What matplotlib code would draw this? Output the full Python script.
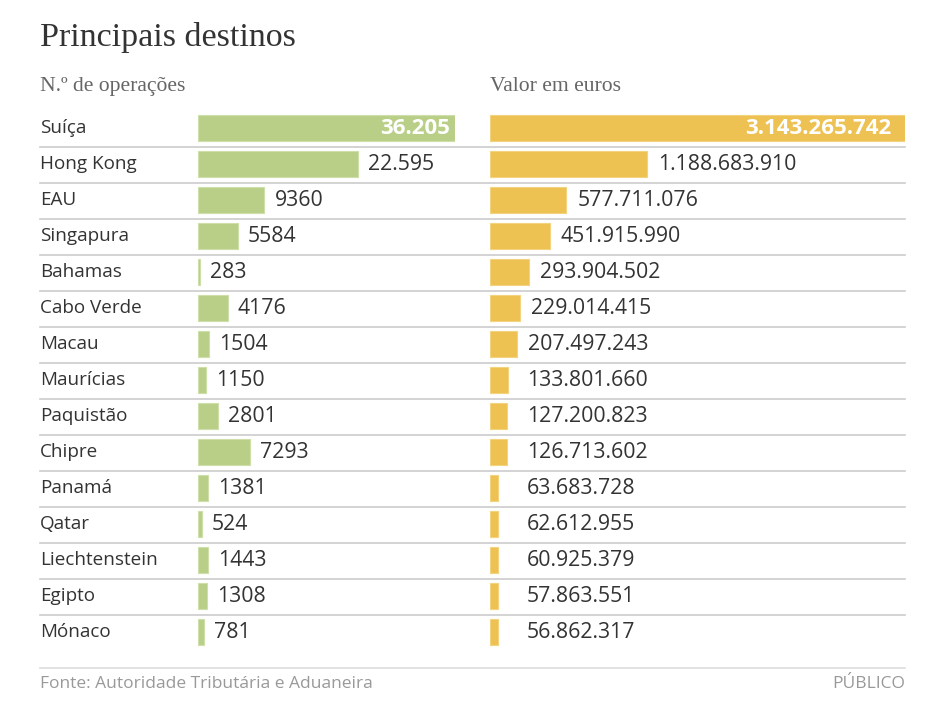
import matplotlib
matplotlib.use("Agg")
import matplotlib.pyplot as plt
from matplotlib.lines import Line2D
from matplotlib import transforms

# ---- data ----
countries = ["Suíça", "Hong Kong", "EAU", "Singapura", "Bahamas", "Cabo Verde",
             "Macau", "Maurícias", "Paquistão", "Chipre", "Panamá", "Qatar",
             "Liechtenstein", "Egipto", "Mónaco"]
operations = [36205, 22595, 9360, 5584, 283, 4176, 1504, 1150, 2801, 7293,
              1381, 524, 1443, 1308, 781]
values_eur = [3143265742, 1188683910, 577711076, 451915990, 293904502,
              229014415, 207497243, 133801660, 127200823, 126713602,
              63683728, 62612955, 60925379, 57863551, 56862317]

title = "Principais destinos"
sub_left = "N.º de operações"
sub_right = "Valor em euros"
source = "Fonte: Autoridade Tributária e Aduaneira"
brand = "PÚBLICO"

W, H = 947, 711
GREEN = "#b9cf88"
YELLOW = "#edc152"
TXT = "#333333"
GRID = "#cccccc"
SANS = "Open Sans"
SERIF = "Liberation Serif"


def fmt(v):
    if v < 10000:
        return str(v)
    return f"{v:,}".replace(",", ".")


fig = plt.figure(figsize=(W / 100, H / 100), dpi=100)
fig.patch.set_facecolor("white")


def fx(px):
    return px / W


def fy(py):
    return 1 - py / H


n = len(countries)
top_px, row_px = 110, 36
bottom_px = top_px + row_px * n


def make_ax(x0, x1):
    ax = fig.add_axes([fx(x0), fy(bottom_px), fx(x1) - fx(x0), (bottom_px - top_px) / H])
    ax.set_ylim(n - 0.5, -0.5)
    ax.axis("off")
    return ax


axL = make_ax(198, 455)
axL.set_xlim(0, max(operations))
axR = make_ax(490, 905)
axR.set_xlim(0, max(values_eur))

ys = list(range(n))
axL.barh(ys, operations, height=0.72, color=GREEN, edgecolor="#cfdfaa", linewidth=0.8)
axR.barh(ys, values_eur, height=0.72, color=YELLOW, edgecolor="#f3d37f", linewidth=0.8)

# separators spanning full width
blend = transforms.blended_transform_factory(fig.transFigure, axL.transData)
for i in range(n - 1):
    fig.add_artist(Line2D([fx(40), fx(905)], [i + 0.52, i + 0.52], transform=blend,
                          color=GRID, lw=1.2))

# category labels
for i, c in enumerate(countries):
    fig.text(fx(40), i, c, transform=blend, fontsize=13.6, family=SANS,
             color=TXT, va="center", ha="left")

# value labels
pxR = (905 - 490) / max(values_eur)
for i, v in enumerate(operations):
    if i == 0:
        axL.annotate(fmt(v), (v, i), xytext=(-5, 0), textcoords="offset pixels",
                     ha="right", va="center", fontsize=16, family=SANS,
                     fontweight="bold", color="white")
    else:
        axL.annotate(fmt(v), (v, i), xytext=(10, 0), textcoords="offset pixels",
                     ha="left", va="center", fontsize=15.3, family=SANS, color=TXT)
for i, v in enumerate(values_eur):
    if i == 0:
        axR.annotate(fmt(v), (v, i), xytext=(-14, 0), textcoords="offset pixels",
                     ha="right", va="center", fontsize=16, family=SANS,
                     fontweight="bold", color="white")
    else:
        xa = max(v, 26 / pxR)
        axR.annotate(fmt(v), (xa, i), xytext=(11, 0), textcoords="offset pixels",
                     ha="left", va="center", fontsize=15.3, family=SANS, color=TXT)

fig.text(fx(40), fy(46), title, fontsize=24.5, family=SERIF,
         color=TXT, va="baseline", ha="left")
fig.text(fx(40), fy(91), sub_left, fontsize=15.6, family=SERIF,
         color="#666666", va="baseline", ha="left")
fig.text(fx(490), fy(91), sub_right, fontsize=15.6, family=SERIF,
         color="#666666", va="baseline", ha="left")

fig.add_artist(Line2D([fx(40), fx(905)], [fy(668), fy(668)], color="#dddddd", lw=1.2))
fig.text(fx(40), fy(688), source, fontsize=12.5, family=SANS,
         color="#999999", va="baseline", ha="left")
fig.text(fx(905), fy(688), brand, fontsize=12.5, family=SANS,
         color="#999999", va="baseline", ha="right")

fig.savefig("out.png", dpi=100, facecolor="white")
